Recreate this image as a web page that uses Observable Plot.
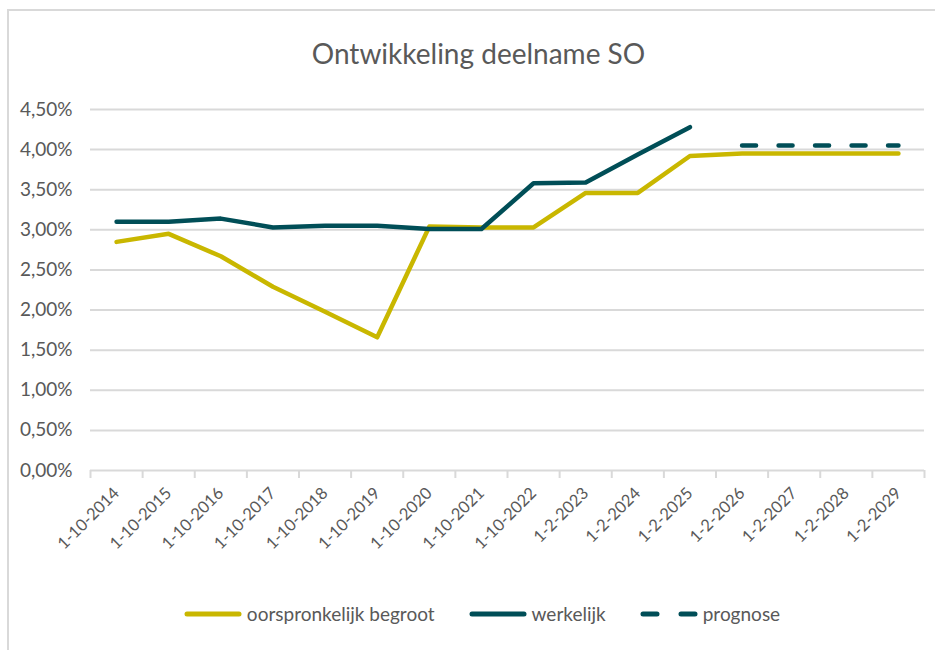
<!DOCTYPE html>
<html><head><meta charset="utf-8">
<script src="https://cdn.jsdelivr.net/npm/d3@7"></script>
<script src="https://cdn.jsdelivr.net/npm/@observablehq/plot@0.6"></script>
<style>
body{margin:0;background:#fff;font-family:Lato,"Open Sans",sans-serif;}
#wrap{position:relative;width:935px;height:650px;overflow:hidden;}
#frame{position:absolute;left:7px;top:9px;width:960px;height:700px;border-left:2px solid #d9d9d9;border-top:2px solid #d9d9d9;}
#title{position:absolute;left:0;top:36px;width:957px;text-align:center;font-size:28px;color:#595959;}
#chart{position:absolute;left:0;top:90px;}
#legend{position:absolute;left:0;top:602px;width:964px;display:flex;justify-content:center;gap:34px;font-size:19px;color:#595959;}
.item{display:flex;align-items:center;gap:5px;}
</style></head>
<body>
<div id="wrap">
<div id="frame"></div>
<div id="title">Ontwikkeling deelname SO</div>
<div id="chart"></div>
<div id="legend"></div>
</div>
<script>
const categories = ["1-10-2014","1-10-2015","1-10-2016","1-10-2017","1-10-2018","1-10-2019","1-10-2020","1-10-2021","1-10-2022","1-2-2023","1-2-2024","1-2-2025","1-2-2026","1-2-2027","1-2-2028","1-2-2029"];
const begroot   = [2.85, 2.95, 2.67, 2.29, 1.98, 1.66, 3.04, 3.03, 3.03, 3.46, 3.46, 3.92, 3.95, 3.95, 3.95, 3.95];
const werkelijk = [3.10, 3.10, 3.14, 3.03, 3.05, 3.05, 3.01, 3.01, 3.58, 3.59, 3.94, 4.28, null, null, null, null];
const prognose  = [null, null, null, null, null, null, null, null, null, null, null, null, 4.05, 4.05, 4.05, 4.05];
const yTicks = [0, 0.5, 1, 1.5, 2, 2.5, 3, 3.5, 4, 4.5];
const seriesNames = ["oorspronkelijk begroot", "werkelijk", "prognose"];
const colors = {begroot: "#C9B700", werkelijk: "#004E57"};

const idx = d3.range(categories.length);
const rows = arr => idx.map(i => ({i, v: arr[i]})).filter(d => d.v != null);
const fmt = d => d.toFixed(2).replace(".", ",") + "%";

const plot = Plot.plot({
  width: 935, height: 460,
  marginTop: 19, marginBottom: 80, marginLeft: 90, marginRight: 11,
  style: {fontFamily: "Lato, 'Open Sans', sans-serif", fontSize: "16px", color: "#595959", background: "transparent", overflow: "visible"},
  x: {type: "linear", domain: [-0.5, categories.length - 0.5], label: null},
  y: {domain: [0, 4.5], label: null},
  marks: [
    Plot.ruleY(yTicks, {stroke: "#d9d9d9", strokeWidth: 2, strokeOpacity: 1}),
    Plot.axisY({ticks: yTicks, tickSize: 0, tickPadding: 18, tickFormat: fmt, fontSize: 19, fill: "#595959", label: null}),
    Plot.axisX({ticks: d3.range(categories.length + 1).map(i => i - 0.5), tickSize: 8, tickFormat: () => "", stroke: "#d9d9d9", strokeWidth: 2, strokeOpacity: 1, label: null}),
    Plot.axisX({ticks: idx, tickSize: 0, tickRotate: -45, tickPadding: 20, tickFormat: i => categories[i], fontSize: 16.5, fill: "#595959", label: null}),
    Plot.line(rows(begroot), {x: "i", y: "v", stroke: colors.begroot, strokeWidth: 4.5, strokeLinecap: "round", strokeLinejoin: "round"}),
    Plot.line(rows(werkelijk), {x: "i", y: "v", stroke: colors.werkelijk, strokeWidth: 4.5, strokeLinecap: "round", strokeLinejoin: "round"}),
    Plot.line(rows(prognose), {x: "i", y: "v", stroke: colors.werkelijk, strokeWidth: 4.5, strokeLinecap: "round", strokeDasharray: "14,22.5"})
  ]
});
document.getElementById("chart").appendChild(plot);

const legend = document.getElementById("legend");
const swatches = [
  {name: seriesNames[0], color: colors.begroot, dash: null},
  {name: seriesNames[1], color: colors.werkelijk, dash: null},
  {name: seriesNames[2], color: colors.werkelijk, dash: "14,24"}
];
for (const s of swatches) {
  const item = document.createElement("div");
  item.className = "item";
  item.innerHTML = `<svg width="58" height="10"><line x1="3" x2="55" y1="5" y2="5" stroke="${s.color}" stroke-width="5" stroke-linecap="round" ${s.dash ? `stroke-dasharray="${s.dash}"` : ""}/></svg><span>${s.name}</span>`;
  legend.appendChild(item);
}
</script>
</body></html>
